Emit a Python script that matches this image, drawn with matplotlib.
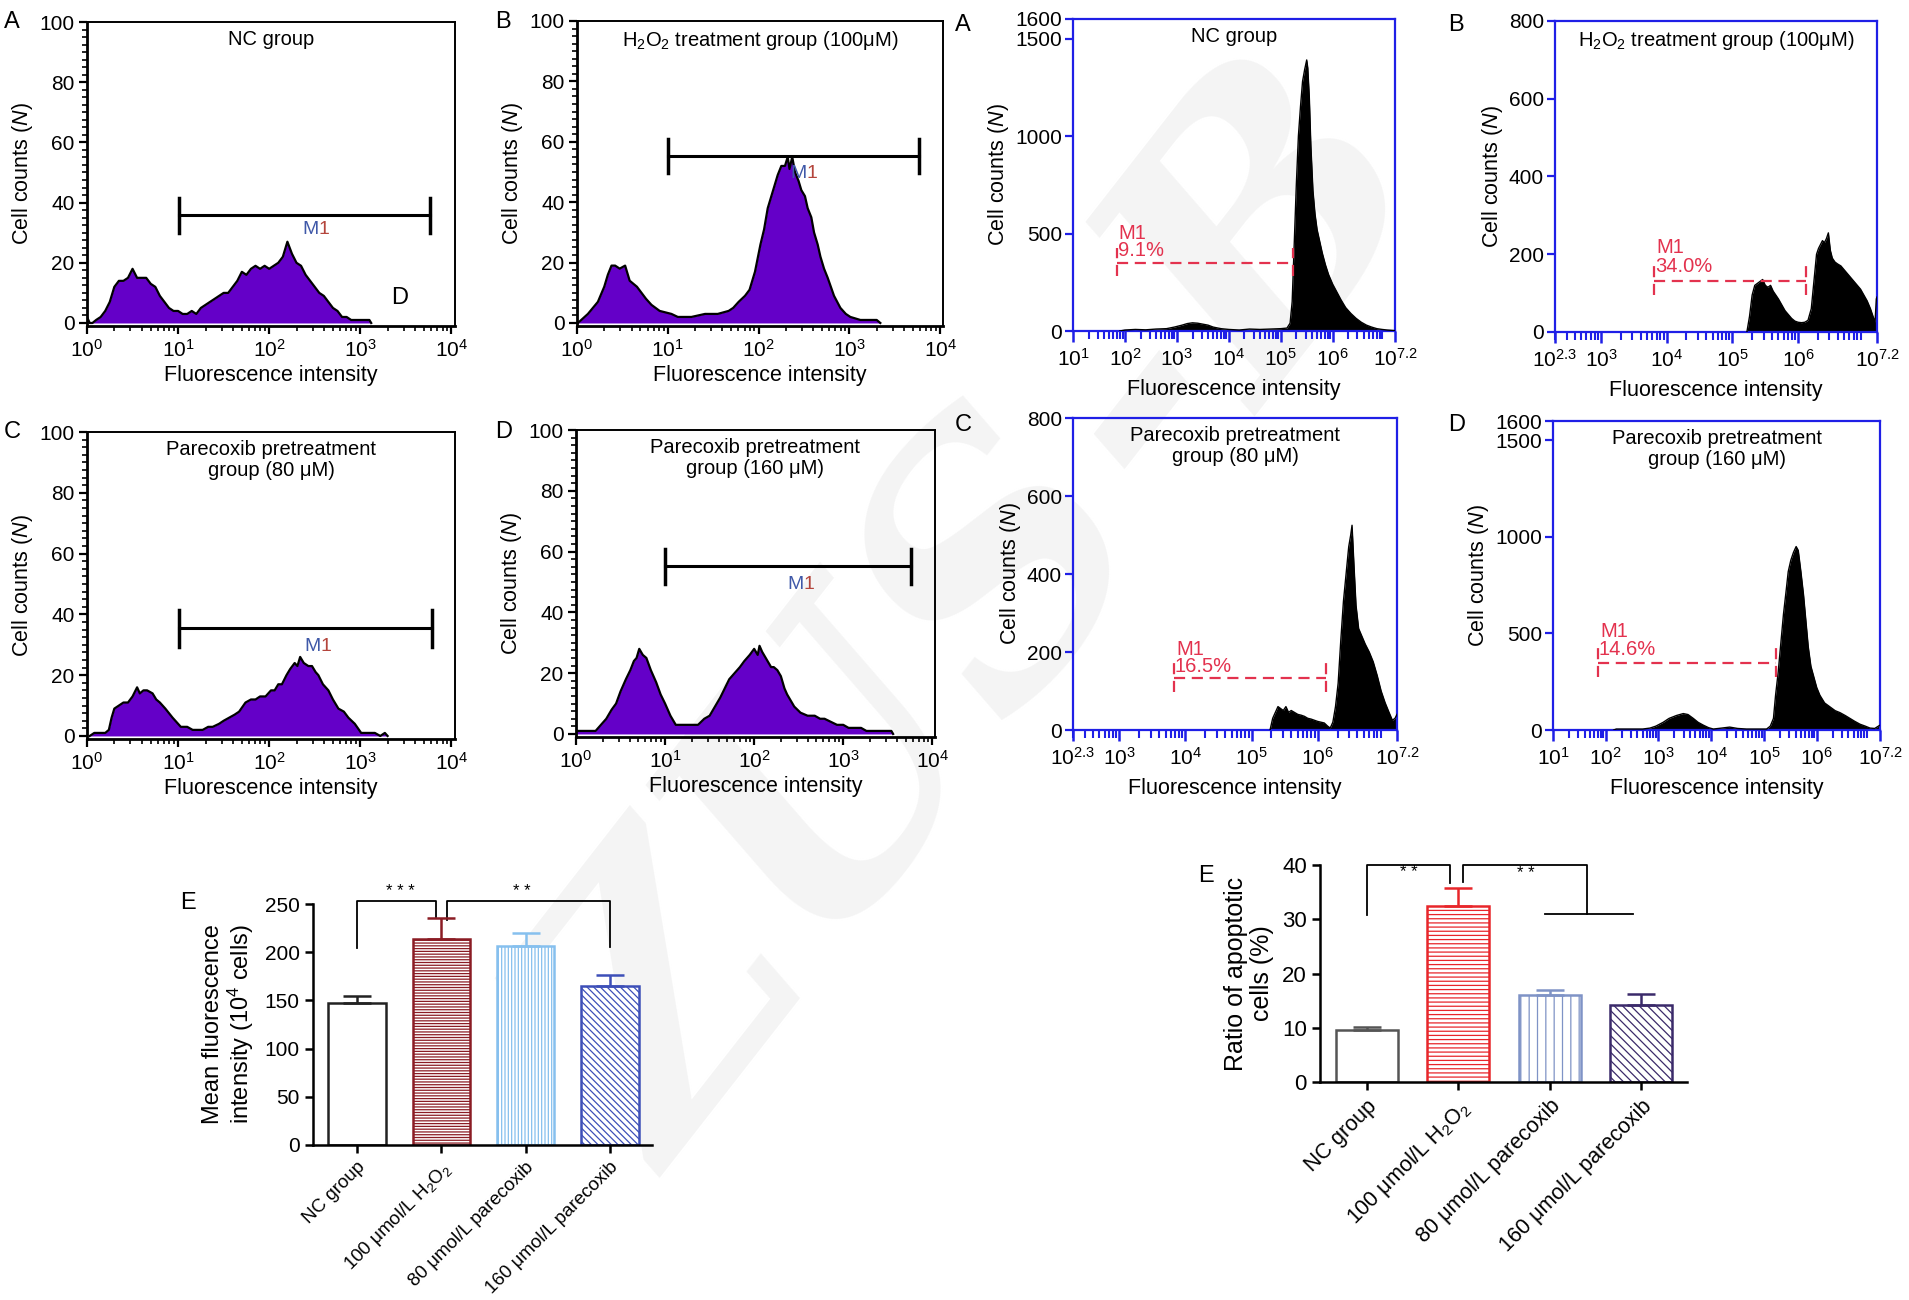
import numpy as np
import matplotlib
matplotlib.use('Agg')
import matplotlib.pyplot as plt
from matplotlib.ticker import LogLocator, NullFormatter, MultipleLocator

plt.rcParams['font.family'] = ['Liberation Sans', 'DejaVu Sans']
plt.rcParams['mathtext.fontset'] = 'custom'
plt.rcParams['mathtext.rm'] = 'Liberation Sans'
plt.rcParams['mathtext.it'] = 'Liberation Sans:italic'
plt.rcParams['mathtext.bf'] = 'Liberation Sans:bold'
plt.rcParams['hatch.linewidth'] = 0.9

# ---------------- data ----------------
# left block: purple histograms (log10 intensity, cell counts)
a_lx = [0.00, 0.03, 0.06, 0.10, 0.15, 0.20, 0.25, 0.30, 0.35, 0.40, 0.45, 0.50, 0.55, 0.60, 0.65, 0.70,
        0.75, 0.80, 0.85, 0.90, 0.95, 1.00, 1.05, 1.10, 1.15, 1.20, 1.25, 1.30, 1.35, 1.40, 1.45, 1.50,
        1.55, 1.60, 1.65, 1.70, 1.75, 1.80, 1.85, 1.90, 1.95, 2.00, 2.05, 2.10, 2.15, 2.20, 2.25, 2.30,
        2.35, 2.40, 2.45, 2.50, 2.55, 2.60, 2.65, 2.70, 2.75, 2.80, 2.85, 2.90, 2.95, 3.00, 3.05, 3.10, 3.12]
a_n = [2, 0, 0, 1, 2, 4, 7, 12, 14, 14, 15, 18, 15, 15, 15, 13,
       12, 9, 7, 5, 4, 4, 3, 3, 4, 3, 5, 6, 7, 8, 9, 10,
       10, 12, 14, 17, 16, 18, 19, 18, 19, 18, 19, 20, 22, 27, 23, 20,
       19, 16, 14, 12, 10, 9, 7, 5, 4, 2, 2, 1, 1, 1, 1, 1, 0]

b_lx = [0.01, 0.12, 0.23, 0.30, 0.34, 0.38, 0.42, 0.47, 0.53, 0.56, 0.58, 0.62, 0.66, 0.71, 0.76, 0.82,
        0.91, 1.04, 1.11, 1.26, 1.41, 1.55, 1.67, 1.72, 1.78, 1.85, 1.90, 1.96, 2.02, 2.06, 2.10, 2.14,
        2.17, 2.21, 2.25, 2.29, 2.32, 2.34, 2.37, 2.40, 2.44, 2.47, 2.51, 2.54, 2.58, 2.61, 2.65, 2.68,
        2.72, 2.76, 2.83, 2.90, 2.96, 3.01, 3.12, 3.22, 3.30, 3.34]
b_n = [0, 3, 7, 12, 16, 19, 19, 18, 19, 16, 14, 13, 12, 10, 8, 6,
       4, 3, 2, 2, 3, 3, 4, 5, 7, 9, 11, 17, 26, 31, 38, 42,
       45, 49, 52, 52, 55, 51, 55, 50, 47, 44, 42, 38, 35, 30, 26, 22,
       18, 15, 9, 5, 3, 2, 1, 1, 1, 0]

c_lx = [0.03, 0.08, 0.13, 0.20, 0.24, 0.27, 0.30, 0.35, 0.40, 0.45, 0.50, 0.55, 0.58, 0.62, 0.66, 0.72,
        0.76, 0.80, 0.86, 0.94, 1.03, 1.10, 1.16, 1.22, 1.27, 1.33, 1.38, 1.45, 1.50, 1.56, 1.62, 1.67,
        1.74, 1.80, 1.85, 1.90, 1.96, 2.02, 2.06, 2.10, 2.14, 2.19, 2.23, 2.28, 2.31, 2.34, 2.38, 2.43,
        2.47, 2.51, 2.54, 2.59, 2.65, 2.70, 2.76, 2.82, 2.87, 2.94, 3.01, 3.10, 3.16, 3.22, 3.27, 3.30]
c_n = [0, 1, 1, 1, 2, 6, 9, 10, 11, 11, 13, 16, 14, 15, 15, 14,
       12, 11, 9, 6, 3, 3, 2, 2, 2, 3, 3, 4, 5, 6, 7, 8,
       11, 12, 12, 13, 13, 15, 15, 17, 17, 20, 22, 24, 23, 26, 24, 23,
       23, 21, 20, 17, 15, 12, 9, 8, 6, 4, 1, 1, 1, 0, 1, 0]

d_lx = [0.00, 0.05, 0.22, 0.28, 0.34, 0.40, 0.45, 0.50, 0.56, 0.61, 0.65, 0.68, 0.71, 0.75, 0.79, 0.84,
        0.90, 0.95, 1.00, 1.06, 1.12, 1.22, 1.37, 1.44, 1.50, 1.56, 1.62, 1.67, 1.72, 1.78, 1.84, 1.89,
        1.95, 2.00, 2.04, 2.06, 2.09, 2.11, 2.15, 2.19, 2.22, 2.26, 2.30, 2.34, 2.37, 2.41, 2.45, 2.52,
        2.60, 2.68, 2.74, 2.79, 2.86, 2.93, 3.00, 3.06, 3.12, 3.20, 3.26, 3.32, 3.40, 3.48, 3.54, 3.56]
d_n = [1, 1, 1, 3, 5, 8, 10, 14, 18, 21, 24, 25, 28, 26, 25, 21,
       17, 13, 10, 6, 3, 3, 3, 5, 6, 9, 12, 15, 18, 20, 22, 24,
       26, 28, 26, 29, 27, 26, 24, 22, 22, 21, 19, 15, 13, 11, 9, 7,
       6, 6, 5, 5, 4, 3, 3, 2, 2, 2, 1, 1, 1, 1, 1, 0]

# right block: black histograms (log10 intensity, cell counts)
ra_lx = [1.90, 2.00, 2.20, 2.40, 2.60, 2.80, 2.95, 3.10, 3.20, 3.30, 3.40, 3.50, 3.60, 3.70, 3.85, 4.00,
         4.20, 4.40, 4.60, 4.80, 5.00, 5.12, 5.18, 5.22, 5.26, 5.30, 5.34, 5.38, 5.42, 5.46, 5.50, 5.52,
         5.55, 5.58, 5.62, 5.66, 5.70, 5.75, 5.80, 5.86, 5.92, 6.00, 6.08, 6.16, 6.25, 6.35, 6.45, 6.55,
         6.65, 6.75, 6.85, 6.95, 7.05, 7.15, 7.20]
ra_n = [0, 5, 8, 6, 10, 12, 20, 30, 38, 42, 40, 35, 30, 20, 12, 8,
        5, 10, 8, 10, 12, 15, 40, 150, 450, 750, 1000, 1150, 1280, 1340, 1390, 1350,
        1200, 950, 720, 600, 520, 460, 400, 340, 290, 240, 200, 160, 120, 90, 65, 45,
        30, 20, 12, 8, 5, 3, 2]

rb_lx = [5.22, 5.26, 5.30, 5.34, 5.38, 5.42, 5.46, 5.50, 5.54, 5.58, 5.62, 5.66, 5.70, 5.75, 5.80, 5.85,
         5.90, 5.95, 6.00, 6.05, 6.10, 6.15, 6.20, 6.24, 6.28, 6.31, 6.34, 6.37, 6.40, 6.43, 6.46, 6.49,
         6.52, 6.56, 6.60, 6.65, 6.70, 6.75, 6.80, 6.85, 6.90, 6.95, 7.00, 7.05, 7.10, 7.14, 7.17, 7.19, 7.20]
rb_n = [0, 40, 95, 120, 125, 130, 135, 120, 115, 120, 105, 95, 85, 70, 55, 45,
        35, 28, 25, 24, 25, 30, 60, 130, 200, 215, 225, 235, 230, 240, 255, 210,
        190, 180, 175, 170, 160, 150, 140, 130, 120, 110, 95, 80, 60, 40, 25, 85, 90]

rc_lx = [5.28, 5.32, 5.36, 5.40, 5.44, 5.48, 5.52, 5.56, 5.60, 5.65, 5.70, 5.75, 5.80, 5.85, 5.90, 5.95,
         6.00, 6.05, 6.10, 6.15, 6.19, 6.23, 6.27, 6.31, 6.35, 6.39, 6.43, 6.47, 6.50, 6.52, 6.55, 6.58,
         6.62, 6.67, 6.72, 6.78, 6.84, 6.90, 6.96, 7.02, 7.08, 7.13, 7.17, 7.20]
rc_n = [0, 30, 45, 60, 55, 50, 60, 45, 50, 45, 40, 38, 35, 30, 28, 25,
        22, 20, 18, 10, 5, 20, 60, 120, 230, 330, 400, 470, 500, 525, 420, 320,
        260, 240, 220, 200, 175, 140, 100, 70, 45, 25, 30, 40]

rd_lx = [2.15, 2.20, 2.50, 2.70, 2.84, 2.95, 3.09, 3.20, 3.34, 3.47, 3.56, 3.66, 3.75, 3.85, 3.95, 4.04,
         4.20, 4.35, 4.50, 4.67, 4.85, 5.05, 5.12, 5.18, 5.22, 5.27, 5.32, 5.37, 5.42, 5.46, 5.51, 5.56,
         5.61, 5.65, 5.70, 5.75, 5.80, 5.84, 5.89, 5.94, 6.00, 6.06, 6.15, 6.25, 6.35, 6.44, 6.54, 6.63,
         6.72, 6.82, 6.92, 7.01, 7.10, 7.17, 7.20]
rd_n = [0, 5, 5, 5, 10, 20, 40, 60, 75, 85, 80, 60, 40, 25, 12, 5,
        10, 15, 8, 5, 5, 5, 20, 60, 180, 300, 450, 600, 720, 820, 880, 920,
        950, 930, 820, 700, 550, 430, 330, 280, 220, 180, 140, 120, 100, 90, 75, 60,
        45, 30, 20, 10, 8, 20, 25]

m1_pct = ['9.1%', '34.0%', '16.5%', '14.6%']

# bar charts
groups = ['NC group', '100 μmol/L H$_2$O$_2$', '80 μmol/L parecoxib', '160 μmol/L parecoxib']
mfi_mean = [147, 214, 206, 165]
mfi_err = [8, 21, 14, 11]
apo_mean = [9.5, 32.5, 16.0, 14.2]
apo_err = [0.6, 3.3, 1.0, 2.1]

# ---------------- figure ----------------
W, H = 1909, 1300
fig = plt.figure(figsize=(W / 100, H / 100), dpi=100)
fig.patch.set_facecolor('white')

PURPLE = '#6400c8'
BLUE = '#1f1fe6'
RED = '#e3324e'
TICK_FS = 15
LAB_FS = 15.5


def rect(l, t, r, b):
    return [l / W, 1 - b / H, (r - l) / W, (b - t) / H]


def letter(x, y, s):
    fig.text(x / W, 1 - y / H, s, fontsize=17, ha='left', va='center')


# watermark, behind everything
fig.text(0.515, 0.52, 'ZUS-B', fontsize=250, rotation=52, color='#f4f4f4', ha='center', va='center',
         family='DejaVu Serif', weight='bold', style='italic', zorder=-5)


def purple_panel(box, lx, n, title, gate, m1, xmax):
    ax = fig.add_axes(rect(*box))
    ax.set_facecolor('none')
    x = 10 ** np.array(lx)
    ax.fill_between(x, n, 0, color=PURPLE, lw=0, zorder=2)
    ax.plot(x, n, color='black', lw=1.6, zorder=3)
    ax.set_xscale('log')
    ax.set_xlim(1, 10 ** xmax)
    ax.set_ylim(-1, 100)
    ax.set_xticks([1, 10, 100, 1000, 10000],
                  labels=['$\\mathregular{10^{%d}}$' % k for k in range(5)])
    ax.xaxis.set_minor_locator(LogLocator(base=10, subs=np.arange(2, 10), numticks=20))
    ax.xaxis.set_minor_formatter(NullFormatter())
    ax.yaxis.set_major_locator(MultipleLocator(20))
    ax.yaxis.set_minor_locator(MultipleLocator(2.5))
    ax.tick_params(which='major', direction='out', length=6, width=1.6, labelsize=TICK_FS, pad=3)
    ax.tick_params(which='minor', direction='out', length=3.5, width=1.2)
    for side in ['left', 'bottom']:
        ax.spines[side].set_linewidth(2)
    for side in ['top', 'right']:
        ax.spines[side].set_linewidth(1.4)
    ax.set_ylabel('Cell counts ($\\mathit{N}$)', fontsize=LAB_FS, labelpad=3)
    ax.set_xlabel('Fluorescence intensity', fontsize=LAB_FS, labelpad=3)
    ax.text(0.5, 0.975, title, transform=ax.transAxes, ha='center', va='top', fontsize=14.5,
            linespacing=1.15)
    g0, g1, gy, glo, ghi = gate
    ax.plot([10 ** g0, 10 ** g1], [gy, gy], color='black', lw=2.2, zorder=4)
    ax.plot([10 ** g0, 10 ** g0], [glo, ghi], color='black', lw=2.5, zorder=4)
    ax.plot([10 ** g1, 10 ** g1], [glo, ghi], color='black', lw=2.5, zorder=4)
    mx, my = m1
    ax.text(10 ** mx, my, 'M', color='#3f58a8', ha='right', va='center', fontsize=14, zorder=5)
    ax.text(10 ** mx, my, '1', color='#b4453c', ha='left', va='center', fontsize=14, zorder=5)
    return ax


def black_panel(box, lx, n, title, xmin, ymax, yticks, gate, pct):
    ax = fig.add_axes(rect(*box))
    ax.set_facecolor('none')
    x = 10 ** np.array(lx)
    ax.fill_between(x, n, 0, color='black', lw=0, zorder=2)
    ax.plot(x, n, color='black', lw=1.0, zorder=3)
    ax.set_xscale('log')
    ax.set_xlim(10 ** xmin, 10 ** 7.2)
    ax.set_ylim(0, ymax)
    first = int(np.ceil(xmin))
    if xmin == first:
        pos = [10 ** k for k in range(first, 7)]
        labs = ['$\\mathregular{10^{%d}}$' % k for k in range(first, 7)]
    else:
        pos = [10 ** xmin] + [10 ** k for k in range(first, 7)]
        labs = ['$\\mathregular{10^{%.1f}}$' % xmin] + ['$\\mathregular{10^{%d}}$' % k for k in range(first, 7)]
    pos.append(10 ** 7.2)
    labs.append('$\\mathregular{10^{7.2}}$')
    ax.set_xticks(pos, labels=labs)
    ax.xaxis.set_minor_locator(LogLocator(base=10, subs=np.arange(2, 10), numticks=20))
    ax.xaxis.set_minor_formatter(NullFormatter())
    ax.set_yticks(yticks)
    for s in ax.spines.values():
        s.set_color(BLUE)
        s.set_linewidth(1.6)
    ax.tick_params(axis='x', which='major', direction='out', length=8, width=1.8, color=BLUE,
                   labelsize=TICK_FS, pad=4)
    ax.tick_params(axis='x', which='minor', direction='out', length=6, width=1.5, color=BLUE)
    ax.tick_params(axis='y', which='major', direction='out', length=6, width=1.6, color=BLUE,
                   labelsize=TICK_FS, pad=2)
    ax.set_ylabel('Cell counts ($\\mathit{N}$)', fontsize=LAB_FS, labelpad=3)
    ax.set_xlabel('Fluorescence intensity', fontsize=LAB_FS, labelpad=7)
    ax.text(0.5, 0.975, title, transform=ax.transAxes, ha='center', va='top', fontsize=14.5,
            linespacing=1.15)
    g0, g1, gy, glo, ghi = gate
    kw = dict(color=RED, lw=1.6, dashes=(5, 3), zorder=4)
    ax.plot([10 ** g0, 10 ** g1], [gy, gy], **kw)
    ax.plot([10 ** g0, 10 ** g0], [glo, ghi], **kw)
    ax.plot([10 ** g1, 10 ** g1], [glo, ghi], **kw)
    span = ghi - glo
    ax.text(10 ** (g0 + 0.04), ghi + span * 0.5, 'M1', color=RED, ha='left', va='center', fontsize=14.5)
    ax.text(10 ** (g0 + 0.02), ghi - span * 0.1, pct, color=RED, ha='left', va='center', fontsize=14.5)
    return ax


# left block
purple_panel((87, 22, 455, 326), a_lx, a_n, 'NC group', (1.01, 3.77, 36, 30, 41.6), (2.54, 31), 4.04)
purple_panel((577, 21, 943, 326), b_lx, b_n, 'H$_2$O$_2$ treatment group (100μM)',
             (1.0, 3.77, 55.4, 49.6, 60.8), (2.53, 49.6), 4.03)
purple_panel((87, 432, 455, 739), c_lx, c_n, 'Parecoxib pretreatment\ngroup (80 μM)',
             (1.01, 3.79, 35.4, 29.4, 41.4), (2.56, 29.4), 4.04)
purple_panel((576, 430, 935, 737), d_lx, d_n, 'Parecoxib pretreatment\ngroup (160 μM)',
             (1.0, 3.76, 55.4, 49.3, 60.7), (2.55, 49.3), 4.03)
fig.text((87 + 0.85 * 368) / W, 1 - 298 / H, 'D', fontsize=17, ha='center', va='center')

# right block
black_panel((1073, 19, 1395, 331), ra_lx, ra_n, 'NC group', 1, 1600, [0, 500, 1000, 1500, 1600],
            (1.84, 5.24, 350, 280, 425), m1_pct[0])
black_panel((1555, 21, 1877, 332), rb_lx, rb_n, 'H$_2$O$_2$ treatment group (100μM)', 2.3, 800,
            [0, 200, 400, 600, 800], (3.81, 6.12, 131, 94, 176), m1_pct[1])
black_panel((1073, 418, 1397, 730), rc_lx, rc_n, 'Parecoxib pretreatment\ngroup (80 μM)', 2.3, 800,
            [0, 200, 400, 600, 800], (3.82, 6.13, 133, 98, 171), m1_pct[2])
black_panel((1553, 421, 1880, 730), rd_lx, rd_n, 'Parecoxib pretreatment\ngroup (160 μM)', 1, 1600,
            [0, 500, 1000, 1500, 1600], (1.85, 5.23, 348, 276, 431), m1_pct[3])

for x, y, s in [(4, 22, 'A'), (495, 22, 'B'), (955, 25, 'A'), (1448, 25, 'B'),
                (4, 432, 'C'), (495, 432, 'D'), (955, 425, 'C'), (1448, 425, 'D'),
                (180, 903, 'E'), (1198, 876, 'E')]:
    letter(x, y, s)


# bar charts
def bar_panel(box, means, errs, edges, hatches, ymax, ystep, ylabel, xlim, tfs, cfs, lfs):
    ax = fig.add_axes(rect(*box))
    ax.set_facecolor('none')
    xs = np.arange(len(means))
    for i in xs:
        ax.bar(i, means[i], width=0.68, facecolor='white', edgecolor=edges[i], hatch=hatches[i],
               lw=1.8, zorder=2)
        ax.errorbar(i, means[i], yerr=[[0], [errs[i]]], fmt='none', ecolor=edges[i], elinewidth=1.8,
                    capsize=10, capthick=1.8, zorder=3)
    ax.set_xlim(*xlim)
    ax.set_ylim(0, ymax)
    ax.yaxis.set_major_locator(MultipleLocator(ystep))
    ax.set_xticks(xs)
    ax.set_xticklabels(groups, rotation=45, ha='right', rotation_mode='anchor')
    for side in ['top', 'right']:
        ax.spines[side].set_visible(False)
    for side in ['left', 'bottom']:
        ax.spines[side].set_linewidth(1.8)
    ax.tick_params(direction='out', length=6, width=1.8)
    ax.tick_params(axis='y', labelsize=tfs)
    ax.tick_params(axis='x', labelsize=cfs, pad=4)
    ax.set_ylabel(ylabel, fontsize=lfs, labelpad=6, linespacing=1.1)
    return ax


ax1 = bar_panel((313, 904, 652, 1145), mfi_mean, mfi_err,
                ['#222222', '#8b1c24', '#86c0ee', '#3d4fb8'], ['', '------', '|||||', '\\\\\\\\\\'],
                250, 50, 'Mean fluorescence\nintensity (10$^4$ cells)', (-0.52, 3.5), 15, 13.5, 17)
bk = dict(color='black', lw=1.3, clip_on=False)
ax1.plot([0, 0, 0.94, 0.94], [204, 253, 253, 236], **bk)
ax1.plot([1.07, 1.07, 3, 3], [233, 253, 253, 205], **bk)
ax1.text(0.52, 255, '* * *', ha='center', va='bottom', fontsize=12)
ax1.text(1.96, 255, '* *', ha='center', va='bottom', fontsize=12)

ax2 = bar_panel((1320, 865, 1687, 1082), apo_mean, apo_err,
                ['#555555', '#e8262a', '#7f93c6', '#3b2a6a'], ['', '----', '||', '\\\\\\\\'],
                40, 10, 'Ratio of apoptotic\ncells (%)', (-0.51, 3.5), 16, 15.5, 18)
ax2.plot([0, 0, 0.91, 0.91], [30.8, 40, 40, 36.7], **bk)
ax2.plot([1.05, 1.05, 2.41, 2.41], [36.9, 40, 40, 31], **bk)
ax2.plot([1.95, 2.91], [31, 31], **bk)
ax2.text(0.46, 38.6, '* *', ha='center', va='center', fontsize=12)
ax2.text(1.74, 38.4, '* *', ha='center', va='center', fontsize=12)

fig.savefig('out.png', dpi=100, facecolor='white')
